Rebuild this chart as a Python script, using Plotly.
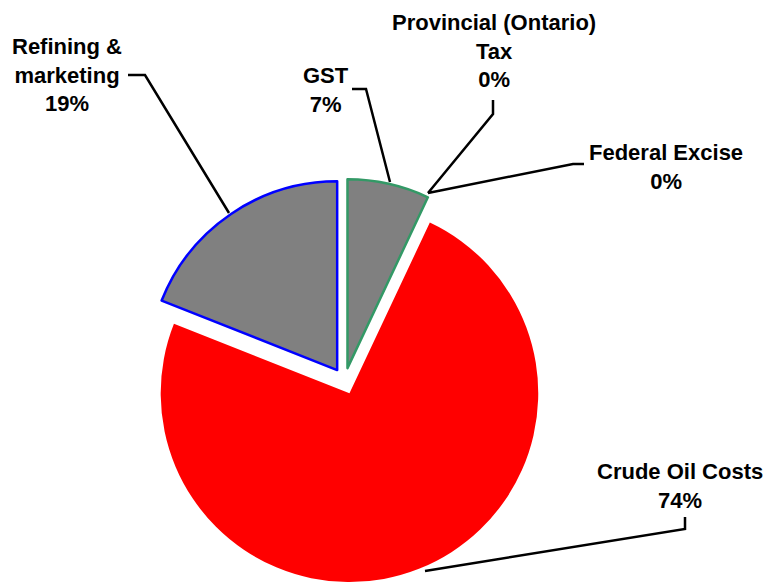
import plotly.graph_objects as go

# Data
labels = ["GST", "Provincial (Ontario) Tax", "Federal Excise", "Crude Oil Costs", "Refining & marketing"]
label_text = ["GST", "Provincial (Ontario)<br>Tax", "Federal Excise", "Crude Oil Costs", "Refining &<br>marketing"]
values = [7, 0, 0, 74, 19]
colors = ["#808080", "#808080", "#808080", "#FF0000", "#808080"]
line_colors = ["#339966", "#339966", "#339966", "#FF0000", "#0000FF"]
line_widths = [2.5, 0, 0, 0, 2.5]
pulls = [0.07, 0, 0, 0.07, 0.07]

# page body has an 8px margin; work in window pixels and convert
OFF = 8
W, H = 773 - OFF, 584 - OFF

def px(x):
    return (x - OFF) / W

def py(y):
    return 1 - (y - OFF) / H

fig = go.Figure(go.Pie(
    labels=labels,
    values=values,
    sort=False,
    direction="clockwise",
    rotation=0,
    pull=pulls,
    textinfo="none",
    hoverinfo="label+percent",
    marker=dict(colors=colors, line=dict(color=line_colors, width=line_widths)),
    domain=dict(x=[px(142.6), px(546.6)], y=[0, py(178)]),
    showlegend=False,
))

# label positions (window pixel centres)
label_pos = [(326, 90), (494, 51), (666, 167), (680, 486), (67, 75)]
leaders = [
    [(352, 89), (366, 89), (390, 182)],
    [(493, 100), (493, 114), (428, 193)],
    [(584, 164), (573, 164), (428, 193)],
    [(685, 517), (685, 529), (425, 571)],
    [(128, 75), (145, 75), (229, 213)],
]

annotations = []
for t, v, (x, y) in zip(label_text, values, label_pos):
    annotations.append(dict(
        text=f"<b>{t}<br>{v}%</b>", x=px(x), y=py(y), xref="paper", yref="paper",
        xanchor="center", yanchor="middle", showarrow=False, align="center",
        font=dict(family="Arial, Liberation Sans, sans-serif", size=22, color="#000000"),
    ))

shapes = []
for pts in leaders:
    path = "M " + " L ".join(f"{px(a)},{py(b)}" for a, b in pts)
    shapes.append(dict(type="path", path=path, xref="paper", yref="paper",
                       line=dict(color="#000000", width=2.5)))

fig.update_layout(
    width=W, height=H,
    margin=dict(l=0, r=0, t=0, b=0),
    paper_bgcolor="#FFFFFF",
    plot_bgcolor="#FFFFFF",
    annotations=annotations,
    shapes=shapes,
)

fig.write_html("out.html")
